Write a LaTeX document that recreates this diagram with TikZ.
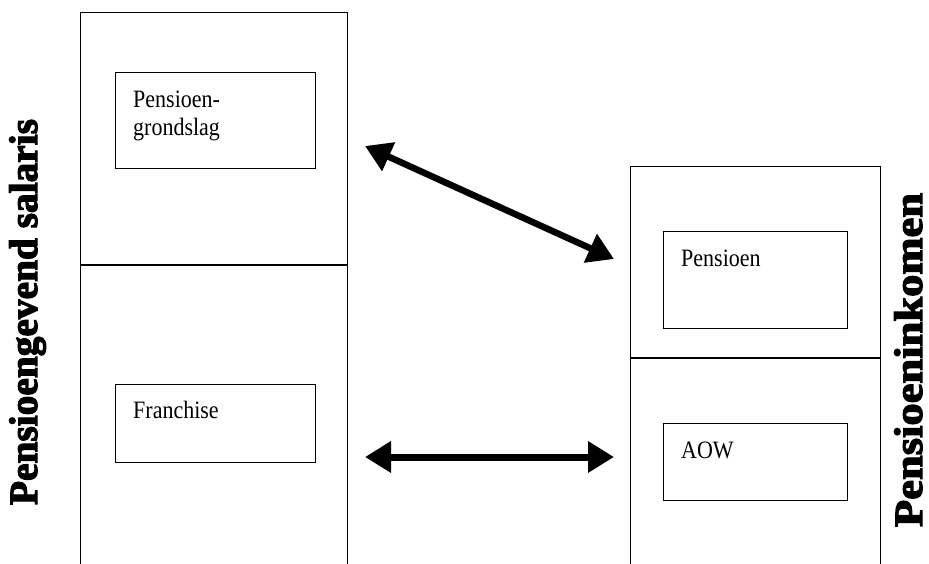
\documentclass[tikz,border=0pt]{standalone}
\usepackage{fontspec}
\usepackage{graphicx}
\setmainfont{Liberation Serif}
\newfontface\heavy{Liberation Serif Bold}[FakeBold=3]
\usetikzlibrary{arrows.meta}
\newcommand{\cond}[1]{\scalebox{0.88}[1]{#1}}
\begin{document}
\begin{tikzpicture}[x=1pt,y=-1pt,
  col/.style={draw,line width=1.2pt,inner sep=0pt,anchor=north west},
  box/.style={draw,line width=1.2pt,rectangle,inner sep=0pt,anchor=north west},
  lbl/.style={font=\fontsize{25}{30}\selectfont,anchor=base west,inner sep=0pt},
  vlabel/.style={font=\heavy\fontsize{40}{40}\selectfont,rotate=90,anchor=base,inner sep=0pt},
  biarrow/.style={line width=6.5pt,{Triangle[length=26pt,width=30pt]}-{Triangle[length=26pt,width=30pt]}}]
\clip (0,0) rectangle (929,564);
\fill[white] (0,0) rectangle (929,564);
% columns
\node[col,minimum width=267pt,minimum height=600pt] (leftcol) at (80,12) {};
\node[col,minimum width=250pt,minimum height=440pt] (rightcol) at (630,166) {};
\coordinate (ldiv) at (80,265);
\coordinate (rdiv) at (630,358);
\draw[line width=1.2pt] (ldiv) -- (ldiv -| leftcol.east);
\draw[line width=1.2pt] (rdiv) -- (rdiv -| rightcol.east);
% inner boxes
\node[box,minimum width=200pt,minimum height=96pt] (pg) at (115,72) {};
\node[box,minimum width=200pt,minimum height=78pt] (fr) at (115,384) {};
\node[box,minimum width=184pt,minimum height=97pt] (pe) at (663,231) {};
\node[box,minimum width=184pt,minimum height=77pt] (aow) at (663,423) {};
% texts
\node[lbl] (pg1) at (133,108) {\cond{Pensioen-}};
\node[lbl] (pg2) at (133,136) {\cond{grondslag}};
\node[lbl] (frt) at (133,418) {\cond{Franchise}};
\node[lbl] (pet) at (681,266) {\cond{Pensioen}};
\node[lbl] (aowt) at (681,458) {\cond{AOW}};
% vertical labels
\node[vlabel] (ls) at (37,312) {\resizebox{386pt}{\height}{Pensioengevend salaris}};
\node[vlabel] (rs) at (922,360) {\resizebox{334pt}{\height}{Pensioeninkomen}};
% arrows
\coordinate (d1) at (365,146);
\coordinate (d2) at (614,259);
\coordinate (h1) at (365,457);
\coordinate (h2) at (614,457);
\draw[biarrow] (d1) -- (d2);
\draw[biarrow,line width=7pt] (h1) -- (h2);
\end{tikzpicture}
\end{document}
